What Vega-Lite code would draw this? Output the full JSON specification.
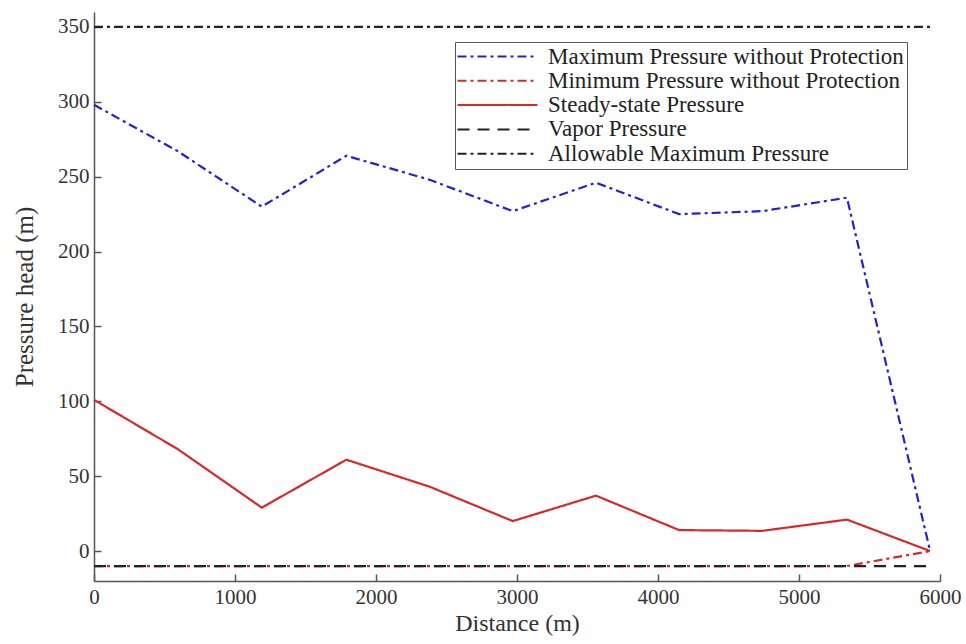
{
  "$schema": "https://vega.github.io/schema/vega-lite/v6.json",
  "width": 846,
  "height": 569,
  "autosize": "none",
  "padding": {"left": 94, "top": 12, "right": 26, "bottom": 63},
  "background": "white",
  "config": {
    "view": {"stroke": null},
    "font": "Liberation Serif",
    "axis": {"grid": false, "domainColor": "#555", "tickColor": "#555", "labelColor": "#333", "titleColor": "#333", "labelFont": "Liberation Serif", "titleFont": "Liberation Serif", "labelFontSize": 21, "titleFontSize": 24, "titleFontWeight": "normal", "tickSize": -7, "domainWidth": 1.5, "tickWidth": 1.5, "labelFlush": false}
  },
  "data": {
    "values": [
      {"series": "Maximum Pressure without Protection", "x": 0, "y": 298},
      {"series": "Maximum Pressure without Protection", "x": 595, "y": 267},
      {"series": "Maximum Pressure without Protection", "x": 1190, "y": 230},
      {"series": "Maximum Pressure without Protection", "x": 1790, "y": 264},
      {"series": "Maximum Pressure without Protection", "x": 2380, "y": 248},
      {"series": "Maximum Pressure without Protection", "x": 2970, "y": 227},
      {"series": "Maximum Pressure without Protection", "x": 3560, "y": 246},
      {"series": "Maximum Pressure without Protection", "x": 4150, "y": 225},
      {"series": "Maximum Pressure without Protection", "x": 4740, "y": 227},
      {"series": "Maximum Pressure without Protection", "x": 5340, "y": 236},
      {"series": "Maximum Pressure without Protection", "x": 5930, "y": 0},
      {"series": "Minimum Pressure without Protection", "x": 0, "y": -10},
      {"series": "Minimum Pressure without Protection", "x": 5340, "y": -10},
      {"series": "Minimum Pressure without Protection", "x": 5930, "y": 0},
      {"series": "Steady-state Pressure", "x": 0, "y": 101},
      {"series": "Steady-state Pressure", "x": 595, "y": 68},
      {"series": "Steady-state Pressure", "x": 1190, "y": 29},
      {"series": "Steady-state Pressure", "x": 1790, "y": 61},
      {"series": "Steady-state Pressure", "x": 2380, "y": 43},
      {"series": "Steady-state Pressure", "x": 2970, "y": 20},
      {"series": "Steady-state Pressure", "x": 3560, "y": 37},
      {"series": "Steady-state Pressure", "x": 4150, "y": 14},
      {"series": "Steady-state Pressure", "x": 4740, "y": 13.5},
      {"series": "Steady-state Pressure", "x": 5340, "y": 21},
      {"series": "Steady-state Pressure", "x": 5930, "y": 0},
      {"series": "Vapor Pressure", "x": 0, "y": -10},
      {"series": "Vapor Pressure", "x": 5930, "y": -10},
      {"series": "Allowable Maximum Pressure", "x": 0, "y": 350},
      {"series": "Allowable Maximum Pressure", "x": 5930, "y": 350}
    ]
  },
  "mark": {"type": "line", "strokeWidth": 2.2},
  "encoding": {
    "x": {"field": "x", "type": "quantitative", "title": "Distance (m)", "scale": {"domain": [0, 6000], "nice": false, "zero": false}, "axis": {"values": [0, 1000, 2000, 3000, 4000, 5000, 6000], "format": "d", "labelPadding": 12, "titlePadding": 4}},
    "y": {"field": "y", "type": "quantitative", "title": "Pressure head (m)", "scale": {"domain": [-20, 360], "nice": false, "zero": false}, "axis": {"values": [0, 50, 100, 150, 200, 250, 300, 350], "labelPadding": 12, "titlePadding": 20, "titleFontSize": 25}},
    "color": {
      "field": "series", "type": "nominal",
      "scale": {
        "domain": ["Maximum Pressure without Protection", "Minimum Pressure without Protection", "Steady-state Pressure", "Vapor Pressure", "Allowable Maximum Pressure"],
        "range": ["#2424c4", "#d42a2a", "#d42a2a", "#222222", "#222222"]
      },
      "legend": {
        "title": null, "orient": "none", "legendX": 361, "legendY": 30,
        "symbolType": "M-4,0H4", "symbolSize": 400, "symbolStrokeWidth": 2, "symbolOffset": 28, "labelOffset": 39,
        "labelFont": "Liberation Serif", "labelFontSize": 23, "labelColor": "#222", "labelLimit": 500,
        "rowPadding": 0.3, "padding": 3, "strokeColor": "#555", "fillColor": "white"
      }
    },
    "strokeDash": {
      "field": "series", "type": "nominal",
      "scale": {
        "domain": ["Maximum Pressure without Protection", "Minimum Pressure without Protection", "Steady-state Pressure", "Vapor Pressure", "Allowable Maximum Pressure"],
        "range": [[9, 4, 3, 4], [9, 4, 3, 4], [1, 0], [12, 8], [9, 4, 3, 4]]
      },
      "legend": {
        "title": null, "orient": "none", "legendX": 361, "legendY": 30,
        "symbolType": "M-4,0H4", "symbolSize": 400, "symbolStrokeWidth": 2, "symbolOffset": 28, "labelOffset": 39,
        "labelFont": "Liberation Serif", "labelFontSize": 23, "labelColor": "#222", "labelLimit": 500,
        "rowPadding": 0.3, "padding": 3, "strokeColor": "#555", "fillColor": "white"
      }
    },
    "order": {"field": "x", "type": "quantitative"}
  }
}
